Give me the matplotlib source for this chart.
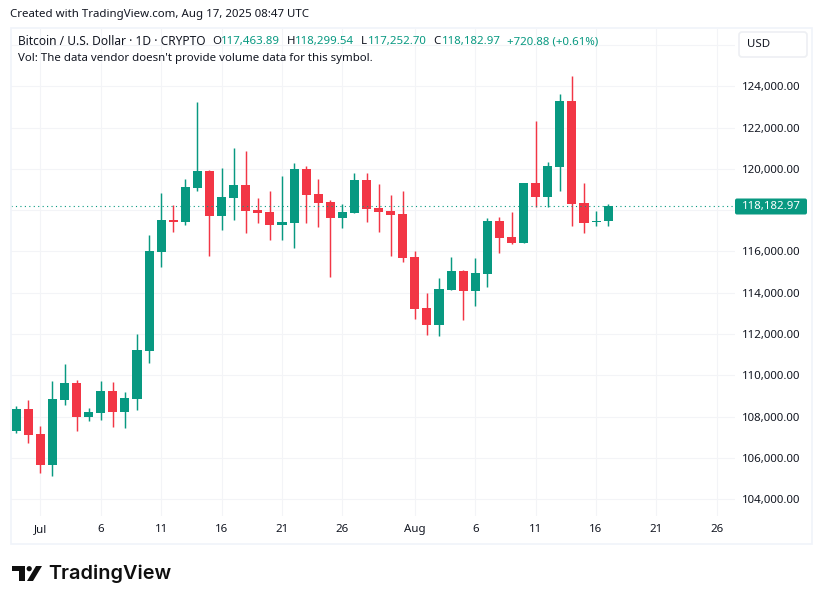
# BTC/USD daily candles, TradingView snapshot

import pandas as pd
import numpy as np
import matplotlib
matplotlib.use('Agg')
import matplotlib.pyplot as plt
import matplotlib.dates as mdates
from matplotlib.patches import Polygon, Circle, Rectangle, FancyBboxPatch

plt.rcParams['font.family'] = ['Noto Sans', 'DejaVu Sans']

###################################
#     Data                      ###
###################################

dates = pd.date_range('2025-06-29', '2025-08-17')

opens = [107320, 108371, 107160, 105674, 108807, 109631, 107984, 108177, 109243, 108226,
         108855, 111180, 115975, 117525, 117428, 119074, 119902, 117718, 118590, 119219,
         118009, 117912, 117282, 117379, 119994, 118784, 118396, 117621, 117864, 119462,
         118106, 117960, 117815, 115732, 113262, 112439, 114134, 115059, 114086, 114909,
         117476, 116701, 116410, 119316, 118638, 120091, 123288, 118348, 117428, 117463.89]
highs = [108517, 108807, 107548, 109727, 110551, 109776, 108420, 109727, 109679, 109195,
         112004, 116798, 118832, 118251, 119510, 123239, 119946, 120043, 121011, 120866,
         118590, 118929, 119655, 120285, 120140, 119510, 118493, 118299, 119800, 119800,
         119268, 118735, 118929, 116023, 113989, 114716, 115732, 115103, 115684, 117621,
         117670, 117912, 119316, 122319, 120333, 123627, 124498, 119316, 117960, 118299.54]
lows = [107223, 106739, 105286, 105141, 108565, 107306, 107790, 107838, 107499, 107451,
        108323, 110599, 115248, 116943, 117282, 118929, 115781, 117040, 117525, 116895,
        117379, 116556, 116556, 116168, 117379, 117186, 114764, 117137, 117864, 117428,
        116943, 115781, 115490, 112730, 111955, 111907, 114134, 112681, 113359, 114280,
        115926, 116362, 116410, 118154, 118154, 118929, 117234, 116895, 117234, 117252.70]
closes = [108371, 107126, 105674, 108855, 109631, 107984, 108226, 109243, 108226, 108904,
          111228, 116023, 117525, 117428, 119123, 119902, 117718, 118638, 119219, 117960,
          117864, 117282, 117428, 119994, 118735, 118348, 117621, 117912, 119462, 118057,
          117912, 117767, 115684, 113214, 112439, 114183, 115059, 114086, 114958, 117476,
          116652, 116410, 119316, 118638, 120140, 123288, 118299, 117379, 117476, 118182.97]

last_price = 118182.97
price_ticks = [104000, 106000, 108000, 110000, 112000, 114000, 116000, 118000, 120000,
               122000, 124000, 126000]
# the 118,000 label sits under the last price badge and 126,000 under the USD button
hidden_ticks = [118000, 126000]
date_ticks = ['2025-07-01', '2025-07-06', '2025-07-11', '2025-07-16', '2025-07-21', '2025-07-26',
              '2025-08-01', '2025-08-06', '2025-08-11', '2025-08-16', '2025-08-21', '2025-08-26']
date_labels = ['Jul', '6', '11', '16', '21', '26', 'Aug', '6', '11', '16', '21', '26']

###################################
#     Plot                      ###
###################################

green = '#089981'
red = '#F23645'
grid_col = '#F3F4F7'
frame_col = '#F0F3FA'
text_col = '#131722'
fs = 8.25

W, H = 822, 604
fig = plt.figure(figsize=(W / 100, H / 100), dpi=100, facecolor='white')

# chart area in pixels: x 11-735, y 29-516
ax = fig.add_axes([11 / W, 1 - 516 / H, 724 / W, 487 / H])

x = mdates.date2num(dates)
o, h, l, c = map(np.array, (opens, highs, lows, closes))
cols = [green if a >= b else red for a, b in zip(c, o)]

ax.vlines(x, l, h, colors=cols, linewidth=1.05, zorder=3)
ax.bar(x, np.maximum(np.abs(c - o), 60), bottom=np.minimum(o, c), width=0.75, color=cols,
       linewidth=0, zorder=4)
ax.axhline(last_price, color=green, linestyle=(0, (1, 3)), linewidth=0.8, zorder=5)

x0 = mdates.date2num(pd.Timestamp('2025-07-01'))
ax.set_xlim(x0 - 2.43, x0 + 57.5)
ax.set_ylim(103189, 126775)

ax.set_xticks(mdates.date2num(pd.to_datetime(date_ticks)))
ax.set_xticklabels(date_labels)
ax.yaxis.tick_right()
ax.set_yticks(price_ticks)
ax.set_yticklabels(['' if p in hidden_ticks else '{:,.2f}'.format(p) for p in price_ticks])
ax.tick_params(axis='both', length=0, labelsize=fs, labelcolor=text_col)
ax.tick_params(axis='x', pad=6)
ax.tick_params(axis='y', pad=5)
ax.grid(True, color=grid_col, linewidth=0.8, zorder=0)
ax.set_axisbelow(True)
for s in ax.spines.values():
    s.set_visible(False)

# overlay in pixel coordinates for header, frame, badges and logo
ov = fig.add_axes([0, 0, 1, 1], facecolor='none')
ov.set_xlim(0, W)
ov.set_ylim(H, 0)
ov.axis('off')

ov.add_patch(Rectangle((10.5, 28), 801.5, 516, fill=False, edgecolor=frame_col, linewidth=1.2))

ov.text(10, 14.5, 'Created with TradingView.com, Aug 17, 2025 08:47 UTC', fontsize=fs,
        color=text_col, va='center')
ov.text(18, 41.5, 'Bitcoin / U.S. Dollar · 1D · CRYPTO', fontsize=8.6, color=text_col, va='center')
ov.text(18, 58.5, "Vol: The data vendor doesn't provide volume data for this symbol.",
        fontsize=fs, color=text_col, va='center')
for px, letter, px2, val in [(212, 'O', 221, '117,463.89'), (287, 'H', 295, '118,299.54'),
                             (361, 'L', 368, '117,252.70'), (433, 'C', 442, '118,182.97')]:
    ov.text(px, 41.5, letter, fontsize=fs, color=text_col, va='center')
    ov.text(px2, 41.5, val, fontsize=fs, color=green, va='center')
ov.text(507, 41.5, '+720.88 (+0.61%)', fontsize=fs, color=green, va='center')

# USD button
ov.add_patch(FancyBboxPatch((739, 32), 68, 25, boxstyle='round,pad=0,rounding_size=3',
                            facecolor='white', edgecolor='#EDEFF3', linewidth=1.2))
ov.text(747, 44.5, 'USD', fontsize=fs, color=text_col, va='center')

# last price badge
ov.add_patch(FancyBboxPatch((735, 198.5), 72, 16, boxstyle='round,pad=0,rounding_size=2',
                            facecolor=green, edgecolor='none'))
ov.text(742, 206.5, '{:,.2f}'.format(last_price), fontsize=fs, color='white', va='center')

# logo
logo = '#0F0F0F'
ov.add_patch(Polygon([(12, 566), (25, 566), (25, 581), (19, 581), (19, 571), (12, 571)],
                     closed=True, facecolor=logo, edgecolor='none'))
ov.add_patch(Circle((29.2, 568.7), 2.6, facecolor=logo, edgecolor='none'))
ov.add_patch(Polygon([(36, 566), (42, 566), (33, 581), (27, 581)], closed=True,
                     facecolor=logo, edgecolor='none'))
ov.text(48.5, 573.5, 'TradingView', fontsize=14.3, family='Inter', weight='semibold',
        color=logo, va='center')

fig.savefig('out.png', dpi=100)
